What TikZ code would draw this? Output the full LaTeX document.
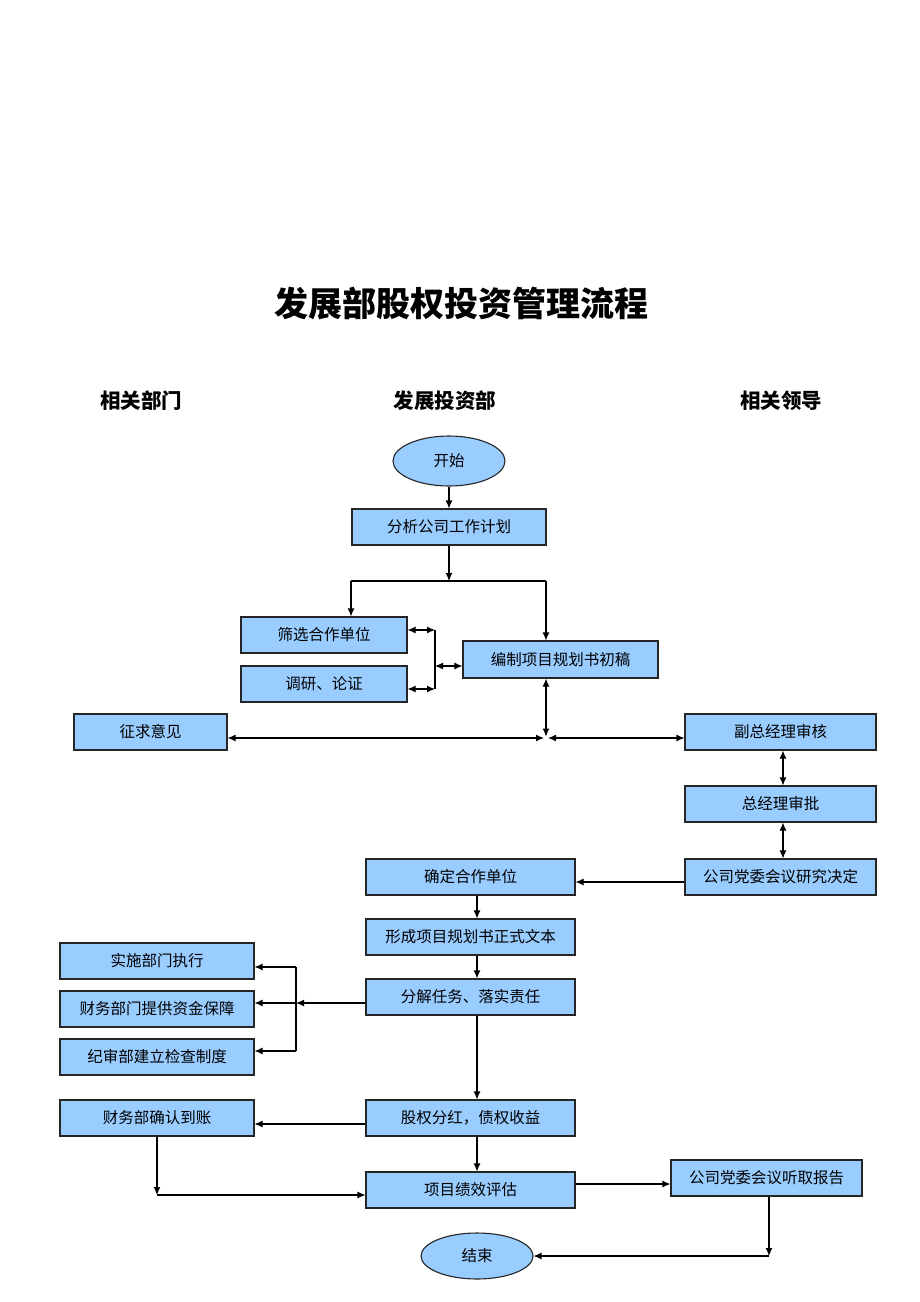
\documentclass[tikz,border=0pt]{standalone}
\usepackage{fontspec}
\setmainfont{Noto Sans CJK SC}
\usetikzlibrary{arrows.meta,shapes.geometric}
\definecolor{boxblue}{RGB}{153,204,255}
\begin{document}
\begin{tikzpicture}[x=1pt,y=-1pt,
  box/.style={draw=black!85,line width=1.1pt,fill=boxblue,minimum height=36pt,inner sep=0pt,font=\fontsize{15.5}{16}\selectfont},
  oval/.style={ellipse,draw=black!85,line width=1.1pt,fill=boxblue,inner sep=0pt,font=\fontsize{15.5}{16}\selectfont},
  arr/.style={line width=1.1pt,-{Latex[length=8pt,width=7pt]}},
  dbl/.style={line width=1.1pt,{Latex[length=8pt,width=7pt]}-{Latex[length=8pt,width=7pt]}},
  ln/.style={line width=1.1pt},
  hd/.style={font=\fontsize{20.5}{22}\selectfont\bfseries}]
\useasboundingbox[fill=white] (0,0) rectangle (920,1302);
% titles
\node[font=\fontsize{34}{36}\selectfont\bfseries] (title) at (461,304) {发展部股权投资管理流程};
\node[hd] (h1) at (141,401) {相关部门};
\node[hd] (h2) at (445,401) {发展投资部};
\node[hd] (h3) at (781,401) {相关领导};
% nodes
\node[oval,minimum width=112pt,minimum height=50pt] (ks) at (449,461) {开始};
\node[box,minimum width=194pt] (fx) at (449,527) {分析公司工作计划};
\node[box,minimum width=166pt] (sx) at (324,635) {筛选合作单位};
\node[box,minimum width=166pt] (dy) at (324,684) {调研、论证};
\node[box,minimum width=195pt,minimum height=37pt] (bz) at (560.5,659.5) {编制项目规划书初稿};
\node[box,minimum width=153pt] (zq) at (150.5,732) {征求意见};
\node[box,minimum width=191pt] (fz) at (780.5,732) {副总经理审核};
\node[box,minimum width=191pt] (zj) at (780.5,804) {总经理审批};
\node[box,minimum width=191pt] (dw) at (780.5,877) {公司党委会议研究决定};
\node[box,minimum width=209pt] (qd) at (470.5,877) {确定合作单位};
\node[box,minimum width=209pt] (xc) at (470.5,937) {形成项目规划书正式文本};
\node[box,minimum width=209pt] (fj) at (470.5,997) {分解任务、落实责任};
\node[box,minimum width=194pt] (ss) at (157,961) {实施部门执行};
\node[box,minimum width=194pt] (cw) at (157,1009) {财务部门提供资金保障};
\node[box,minimum width=194pt] (jsb) at (157,1057) {纪审部建立检查制度};
\node[box,minimum width=209pt] (gq) at (470.5,1118) {股权分红，债权收益};
\node[box,minimum width=194pt] (cq) at (157,1118) {财务部确认到账};
\node[box,minimum width=209pt] (xm) at (470.5,1190) {项目绩效评估};
\node[box,minimum width=191pt] (tq) at (766.5,1178) {公司党委会议听取报告};
\node[oval,minimum width=112pt,minimum height=46pt] (js) at (477,1256) {结束};
% coordinates
\coordinate (s1) at (449,581);
\coordinate (sl) at (351,581);
\coordinate (sr) at (546,581);
\coordinate (v1) at (435,630);
\coordinate (v2) at (435,689);
\coordinate (v3) at (435,666);
\coordinate (J) at (546,738);
\coordinate (b1) at (296,967);
\coordinate (b2) at (296,1003);
\coordinate (b3) at (296,1051);
\coordinate (c1) at (157,1195);
\coordinate (t1) at (671,1184);
\coordinate (e1) at (769,1256);
% connectors
\draw[arr] (ks) -- (fx);
\draw[arr] (fx.south) -- (s1);
\draw[ln] (sl) -- (sr);
\draw[arr] (sl) -- (sl |- sx.north);
\draw[arr] (sr) -- (sr |- bz.north);
\draw[ln] (v1) -- (v2);
\draw[dbl] (sx.east |- v1) -- (v1);
\draw[dbl] (dy.east |- v2) -- (v2);
\draw[dbl] (v3) -- (bz.west |- v3);
\draw[dbl] (J |- bz.south) -- ([yshift=1.5pt]J);
\draw[dbl] (zq.east |- J) -- ([xshift=-2pt]J);
\draw[dbl] ([xshift=2pt]J) -- (fz.west |- J);
\draw[dbl] ([xshift=2.5pt]fz.south) -- ([xshift=2.5pt]zj.north);
\draw[dbl] ([xshift=2.5pt]zj.south) -- ([xshift=2.5pt]dw.north);
\draw[arr] ([yshift=-5pt]dw.west) -- ([yshift=-5pt]qd.east);
\draw[arr] ([xshift=6.5pt]qd.south) -- ([xshift=6.5pt]xc.north);
\draw[arr] ([xshift=6.5pt]xc.south) -- ([xshift=6.5pt]fj.north);
\draw[arr] (fj.west |- b2) -- (b2);
\draw[ln] (b1) -- (b3);
\draw[arr] (b1) -- (ss.east |- b1);
\draw[arr] (b2) -- (cw.east |- b2);
\draw[arr] (b3) -- (jsb.east |- b3);
\draw[arr] ([xshift=6.5pt]fj.south) -- ([xshift=6.5pt]gq.north);
\draw[arr] ([yshift=-6pt]gq.west) -- ([yshift=-6pt]cq.east);
\draw[arr] (cq.south) -- (c1);
\draw[arr] (c1) -- (xm.west |- c1);
\draw[arr] ([xshift=6.5pt]gq.south) -- ([xshift=6.5pt]xm.north);
\draw[arr] (xm.east |- t1) -- (tq.west |- t1);
\draw[arr] ([xshift=2.5pt]tq.south) -- (e1);
\draw[arr] (e1) -- (js.east);
\end{tikzpicture}
\end{document}
